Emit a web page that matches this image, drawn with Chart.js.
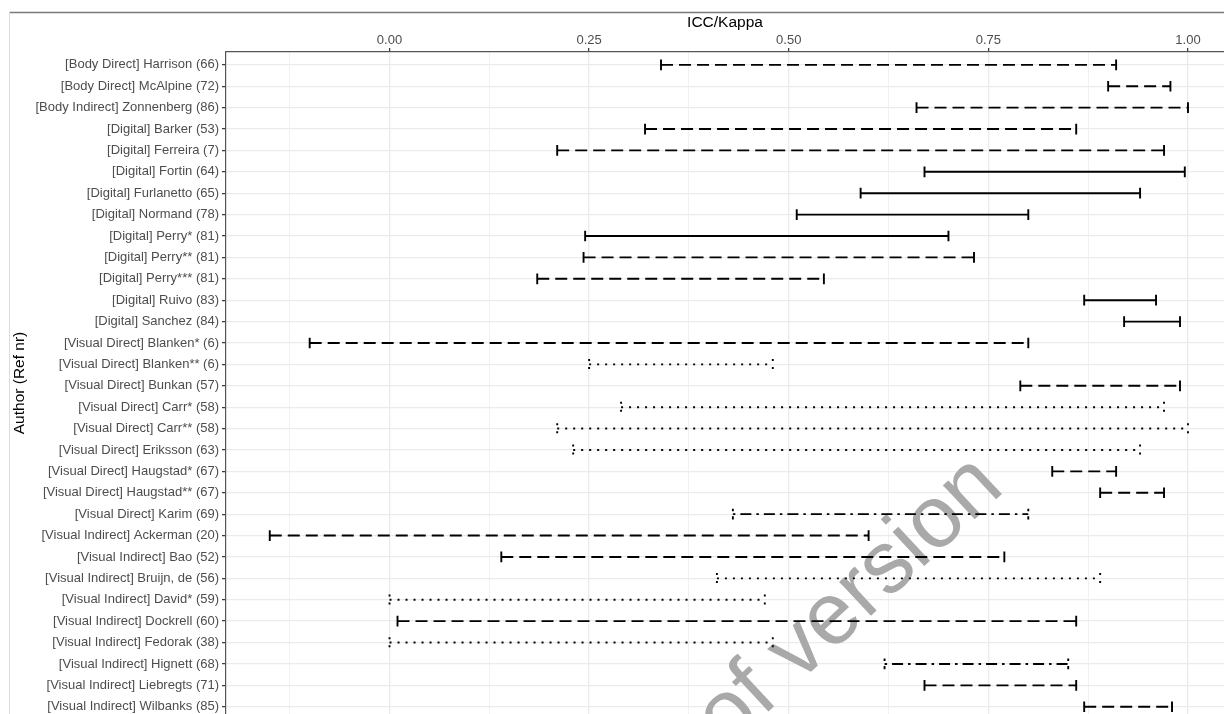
<!DOCTYPE html>
<html>
<head>
<meta charset="utf-8">
<script src="https://cdn.jsdelivr.net/npm/chart.js@4"></script>
<style>
html,body{margin:0;padding:0;background:#fff;overflow:hidden}
#wrap{width:1224px;height:714px;position:relative}
</style>
</head>
<body>
<div id="wrap"><canvas id="c" width="1224" height="714"></canvas></div>
<script>
const authorLabels = [
  "[Body Direct] Harrison (66)",
  "[Body Direct] McAlpine (72)",
  "[Body Indirect] Zonnenberg (86)",
  "[Digital] Barker (53)",
  "[Digital] Ferreira (7)",
  "[Digital] Fortin (64)",
  "[Digital] Furlanetto (65)",
  "[Digital] Normand (78)",
  "[Digital] Perry* (81)",
  "[Digital] Perry** (81)",
  "[Digital] Perry*** (81)",
  "[Digital] Ruivo (83)",
  "[Digital] Sanchez (84)",
  "[Visual Direct] Blanken* (6)",
  "[Visual Direct] Blanken** (6)",
  "[Visual Direct] Bunkan (57)",
  "[Visual Direct] Carr* (58)",
  "[Visual Direct] Carr** (58)",
  "[Visual Direct] Eriksson (63)",
  "[Visual Direct] Haugstad* (67)",
  "[Visual Direct] Haugstad** (67)",
  "[Visual Direct] Karim (69)",
  "[Visual Indirect] Ackerman (20)",
  "[Visual Indirect] Bao (52)",
  "[Visual Indirect] Bruijn, de (56)",
  "[Visual Indirect] David* (59)",
  "[Visual Indirect] Dockrell (60)",
  "[Visual Indirect] Fedorak (38)",
  "[Visual Indirect] Hignett (68)",
  "[Visual Indirect] Liebregts (71)",
  "[Visual Indirect] Wilbanks (85)"
];
const lowerValues = [0.34, 0.90, 0.66, 0.32, 0.21, 0.67, 0.59, 0.51, 0.245, 0.243, 0.185, 0.87, 0.92, -0.10, 0.25, 0.79, 0.29, 0.21, 0.23, 0.83, 0.89, 0.43, -0.15, 0.14, 0.41, 0.00, 0.01, 0.00, 0.62, 0.67, 0.87];
const upperValues = [0.91, 0.978, 1.00, 0.86, 0.97, 0.996, 0.94, 0.80, 0.70, 0.732, 0.544, 0.96, 0.99, 0.80, 0.48, 0.99, 0.97, 1.00, 0.94, 0.91, 0.97, 0.80, 0.60, 0.77, 0.89, 0.47, 0.86, 0.48, 0.85, 0.86, 0.98];
const lineTypes = ["dashed","dashed","dashed","dashed","dashed","solid","solid","solid","solid","dashed","dashed","solid","solid","dashed","dotted","dashed","dotted","dotted","dotted","dashed","dashed","dotdash","dashed","dashed","dotted","dotted","dashed","dotted","dotdash","dashed","dashed"];
const majorTicks = [0, 0.25, 0.5, 0.75, 1.0];
const majorTickLabels = ["0.00", "0.25", "0.50", "0.75", "1.00"];
const minorTicks = [-0.125, 0.125, 0.375, 0.625, 0.875];

const FONT = '"Liberation Sans", Arial, Helvetica, sans-serif';
const dashPatterns = { solid: [], dashed: [12, 6], dotted: [2, 6], dotdash: [2.5, 5, 11, 5] };
const CAP = 0.25;

function buildData(type) {
  const pts = [];
  authorLabels.forEach((lab, i) => {
    if (lineTypes[i] !== type) return;
    const y = i + 1, lo = lowerValues[i], hi = upperValues[i];
    pts.push({x: lo, y: y - CAP}, {x: lo, y: y + CAP}, {x: lo, y: null},
             {x: lo, y: y}, {x: hi, y: y}, {x: hi, y: null},
             {x: hi, y: y - CAP}, {x: hi, y: y + CAP}, {x: hi, y: null});
  });
  return pts;
}

const isMajor = v => majorTicks.some(m => Math.abs(m - v) < 1e-9);
const allXTicks = majorTicks.concat(minorTicks).sort((a, b) => a - b);

const framePlugin = {
  id: 'frame',
  beforeDraw(chart) {
    const c = chart.ctx;
    c.save();
    c.strokeStyle = '#7a7a7a'; c.lineWidth = 1.3;
    c.beginPath(); c.moveTo(9.5, 12.5); c.lineTo(1224, 12.5); c.stroke();
    c.strokeStyle = '#dcdcdc'; c.lineWidth = 1;
    c.beginPath(); c.moveTo(9.5, 12.5); c.lineTo(9.5, 714); c.stroke();
    c.restore();
  }
};
const watermarkPlugin = {
  id: 'watermark',
  beforeDatasetsDraw(chart) {
    const c = chart.ctx;
    c.save();
    c.translate(1006, 490);
    c.rotate(-43 * Math.PI / 180);
    c.font = '88px ' + FONT;
    c.fillStyle = '#a9a9a9';
    c.textAlign = 'right';
    c.textBaseline = 'alphabetic';
    c.fillText('Proof version', 0, 0);
    c.restore();
  }
};

const types = ["solid", "dashed", "dotted", "dotdash"];
new Chart(document.getElementById('c'), {
  type: 'line',
  data: {
    datasets: types.map(t => ({
      label: t,
      data: buildData(t),
      borderColor: '#000',
      borderWidth: 1.9,
      borderDash: dashPatterns[t],
      borderCapStyle: 'butt',
      pointRadius: 0,
      pointHoverRadius: 0,
      fill: false,
      tension: 0,
      spanGaps: false
    }))
  },
  options: {
    responsive: false,
    devicePixelRatio: 1,
    animation: false,
    events: [],
    layout: { padding: 0 },
    plugins: { legend: { display: false }, tooltip: { enabled: false } },
    scales: {
      x: {
        type: 'linear', position: 'top',
        min: -0.2048, max: 1.0451,
        afterBuildTicks: s => { s.ticks = allXTicks.map(v => ({value: v})); },
        afterFit: s => { s.height = 52; s.paddingLeft = 0; s.paddingRight = 0; },
        ticks: {
          autoSkip: false, maxRotation: 0, padding: 0,
          color: '#4d4d4d', font: { family: FONT, size: 13 },
          callback: v => { const k = majorTicks.findIndex(m => Math.abs(m - v) < 1e-9); return k >= 0 ? majorTickLabels[k] : ''; }
        },
        grid: {
          color: '#ebebeb',
          lineWidth: c => (c.tick && isMajor(c.tick.value)) ? 1.3 : 0.7,
          tickColor: c => (c.tick && isMajor(c.tick.value)) ? '#333' : 'rgba(0,0,0,0)',
          tickLength: 4, tickWidth: 1.2, drawTicks: true
        },
        border: { display: true, color: '#555', width: 1.2 },
        title: { display: true, text: 'ICC/Kappa', color: '#000', font: { family: FONT, size: 15.5 }, padding: { top: 13.7, bottom: 0 } }
      },
      y: {
        type: 'linear', reverse: true,
        min: 0.4, max: 31.34,
        afterBuildTicks: s => { s.ticks = authorLabels.map((_, i) => ({value: i + 1})); },
        afterFit: s => { s.width = 226; s.paddingTop = 0; s.paddingBottom = 0; },
        ticks: {
          autoSkip: false, padding: 3,
          color: '#4d4d4d', font: { family: FONT, size: 13 },
          callback: v => authorLabels[Math.round(v) - 1] || ''
        },
        grid: { color: '#ebebeb', lineWidth: 1.3, tickColor: '#333', tickLength: 4, tickWidth: 1.2, drawTicks: true },
        border: { display: true, color: '#555', width: 1.2 },
        title: { display: true, text: 'Author (Ref nr)', color: '#000', font: { family: FONT, size: 15.5 }, padding: { top: 10, bottom: 0 } }
      }
    }
  },
  plugins: [framePlugin, watermarkPlugin]
});
</script>
</body>
</html>
